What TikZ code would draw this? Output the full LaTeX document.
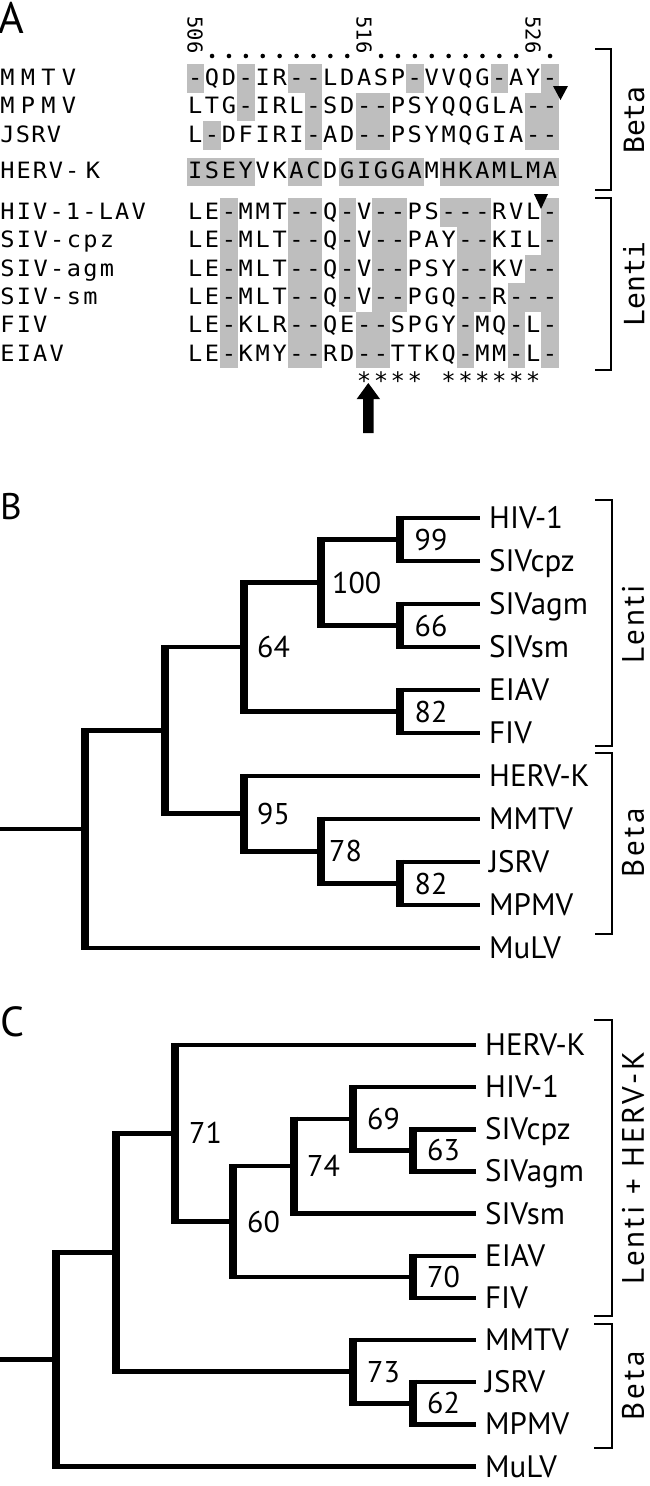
\documentclass[tikz,border=0pt]{standalone}
\usepackage{fontspec}
\usetikzlibrary{calc}
\newfontfamily\monof{DejaVu Sans Mono}
\newfontfamily\ptf{PT Sans}
\newfontfamily\ptls[LetterSpace=10]{PT Sans}
\definecolor{shadecol}{RGB}{190,190,190}
\makeatletter
\newcounter{alncol}
\newcommand\alnrow[3]{%
  \setcounter{alncol}{0}%
  \@tfor\aln@c:=#3\do{%
    \node[seqch] (#1-\arabic{alncol}) at ({195.15+16.9*\arabic{alncol}},#2) {\aln@c};%
    \stepcounter{alncol}}%
}
\newcommand\namerow[4]{%
  \setcounter{alncol}{0}%
  \@tfor\aln@c:=#3\do{%
    \node[seqname] (#1-\arabic{alncol}) at ({7.5+#4*\arabic{alncol}},#2) {\aln@c};%
    \stepcounter{alncol}}%
}
\makeatother
\newcommand\shaderow[3]{\foreach \k in {#3}{\fill[shadecol] ({186.5+16.9*\k},#1) rectangle ({186.9+16.9*(\k+1)},#2);}}
\begin{document}
\begin{tikzpicture}[x=1pt,y=-1pt,
  seqch/.style={font=\monof\fontsize{22.5}{24}\selectfont, anchor=base, inner sep=0pt, xscale=1.05},
  seqname/.style={font=\monof\fontsize{22.5}{24}\selectfont, anchor=base, inner sep=0pt, xscale=1.05},
  posnum/.style={font=\monof\fontsize{20.5}{24}\selectfont, rotate=-90, inner sep=0pt},
  astr/.style={font=\monof\fontsize{24}{26}\selectfont, anchor=base, inner sep=0pt},
  grpA/.style={font=\monof\fontsize{28}{30}\selectfont, rotate=90, inner sep=0pt},
  grpT/.style={font=\ptls\fontsize{31}{34}\selectfont, rotate=90, inner sep=0pt},
  panel/.style={font=\ptf\fontsize{40}{44}\selectfont, anchor=base west, inner sep=0pt},
  hbar/.style={line width=4.5pt},
  vbar/.style={line width=8pt, shorten <=-2.25pt, shorten >=-2.25pt},
  leaf/.style={font=\ptf\fontsize{31}{36}\selectfont, anchor=base west, inner sep=0pt},
  boot/.style={font=\ptf\fontsize{30}{36}\selectfont, anchor=base west, inner sep=0pt},
  brk/.style={line width=2.2pt}]
\useasboundingbox (0,0) rectangle (650,1486);
\fill[white] (0,0) rectangle (650,1486);

% ---------------- Panel A ----------------
\node[panel, font=\ptf\fontsize{44}{48}\selectfont] (labA) at (-2,33) {A};
\node[posnum] (p506) at (195.15,35) {506};
\node[posnum] (p516) at (364.15,35) {516};
\node[posnum] (p526) at (533.15,35) {526};
\foreach \k in {1,...,9,11,12,...,19,21} \fill ({195.15+16.9*\k},56) circle (2.3);

% shading
\shaderow{64.3}{92.9}{0,3,6,7,13,18,21}
\shaderow{92.7}{121.3}{3,7,10,11,20,21}
\shaderow{121.1}{149.5}{1,7,10,11,20,21}
\shaderow{157.7}{185.5}{0,1,2,3,6,7,9,10,11,12,13,15,16,17,18,19,20,21}
\shaderow{198.3}{226.8}{2,6,7,9,11,12,15,16,17,21}
\shaderow{226.6}{255.1}{2,6,7,9,11,12,16,17,21}
\shaderow{254.9}{283.4}{2,6,7,9,11,12,16,17,20,21}
\shaderow{283.2}{311.7}{2,6,7,9,11,12,16,17,19,20,21}
\shaderow{311.5}{340.0}{2,6,7,10,11,16,19,21}
\shaderow{339.8}{368.1}{2,6,7,10,11,16,19,21}

% names
\namerow{nMMTV}{85.5}{MMTV}{20.5}
\namerow{nMPMV}{113.9}{MPMV}{20.5}
\namerow{nJSRV}{142.3}{JSRV}{15.5}
\namerow{nHERV}{178.6}{HERV-}{16.2}
\node[seqname] (nHERVk) at (93,178.6) {K};
\namerow{nHIV}{219.5}{HIV-1-LAV}{16.4}
\namerow{ncpz}{247.8}{SIV-cpz}{16.6}
\namerow{nagm}{276.1}{SIV-agm}{16.6}
\namerow{nsm}{304.4}{SIV-sm}{16.6}
\namerow{nFIV}{332.7}{FIV}{16.4}
\namerow{nEIAV}{361.0}{EIAV}{16.4}

% sequences
\alnrow{sMMTV}{85.5}{-QD-IR--LDASP-VVQG-AY-}
\alnrow{sMPMV}{113.9}{LTG-IRL-SD--PSYQQGLA--}
\alnrow{sJSRV}{142.3}{L-DFIRI-AD--PSYMQGIA--}
\alnrow{sHERV}{178.6}{ISEYVKACDGIGGAMHKAMLMA}
\alnrow{sHIV}{219.5}{LE-MMT--Q-V--PS---RVL-}
\alnrow{scpz}{247.8}{LE-MLT--Q-V--PAY--KIL-}
\alnrow{sagm}{276.1}{LE-MLT--Q-V--PSY--KV--}
\alnrow{ssm}{304.4}{LE-MLT--Q-V--PGQ--R---}
\alnrow{sFIV}{332.7}{LE-KLR--QE--SPGY-MQ-L-}
\alnrow{sEIAV}{361.0}{LE-KMY--RD--TTKQ-MM-L-}

% triangles
\fill (553,86) -- (568,86) -- (560.5,100) -- cycle;
\fill (534,194) -- (548,194) -- (541,209) -- cycle;

% asterisks
\foreach \k in {10,...,13,15,16,...,20} \node[astr] (ast\k) at ({195.15+16.9*\k},389) {*};

% arrow
\fill (368.3,383) -- (380,399) -- (373.5,399) -- (373.5,433) -- (363,433) -- (363,399) -- (356.7,399) -- cycle;

% brackets A
\draw[brk] (595,49) -- (611,49) -- (611,190) -- (595,190);
\draw[brk] (595,198) -- (611,198) -- (611,370) -- (595,370);
\node[grpA] (gBetaA) at (634,120) {Beta};
\node[grpA] (gLentiA) at (634,284) {Lenti};

% ---------------- Panel B ----------------
\node[panel, font=\ptf\fontsize{37}{40}\selectfont] (labB) at (0,519) {B};
\foreach \id/\y/\t in {bHIV/518/HIV-1, bcpz/561/SIVcpz, bagm/604/SIVagm, bsm/647/SIVsm,
  bEIAV/690/EIAV, bFIV/733/FIV, bHERV/776/HERV-K, bMMTV/819/MMTV, bJSRV/862/JSRV,
  bMPMV/905/MPMV, bMuLV/948/MuLV}{
  \coordinate (\id e) at (480,\y);
  \node[leaf] (\id) at (489,\y+10.85) {\t};
}
\coordinate (b99) at (399.5,539.5);
\coordinate (b66) at (399.5,625.5);
\coordinate (b82) at (399.5,711.5);
\coordinate (b100) at (321,582.5);
\coordinate (b64) at (243.5,647);
\coordinate (b82b) at (399.5,883.5);
\coordinate (b78) at (321,851.25);
\coordinate (b95) at (243.5,813.6);
\coordinate (b1) at (165,730.3);
\coordinate (bR) at (85,829);
\coordinate (bS) at (0,829);
\foreach \p/\a/\b in {b99/bHIVe/bcpze, b66/bagme/bsme, b82/bEIAVe/bFIVe, b100/b99/b66, b64/b100/b82,
  b82b/bJSRVe/bMPMVe, b78/bMMTVe/b82b, b95/bHERVe/b78, b1/b64/b95, bR/b1/bMuLVe}{
  \draw[hbar] (\p |- \a) -- (\a);
  \draw[hbar] (\p |- \b) -- (\b);
  \draw[vbar] (\p |- \a) -- (\p |- \b);
}
\draw[hbar] (bS) -- (bR);
\node[boot] (t99) at ($(b99)+(15,10.5)$) {99};
\node[boot] (t66) at ($(b66)+(15,10.5)$) {66};
\node[boot] (t82) at ($(b82)+(15,10.5)$) {82};
\node[boot] (t100) at ($(b100)+(11,10.5)$) {100};
\node[boot] (t64) at ($(b64)+(13.5,10.5)$) {64};
\node[boot] (t95) at ($(b95)+(13.5,10.5)$) {95};
\node[boot] (t78) at ($(b78)+(8,10.5)$) {78};
\node[boot] (t82b) at ($(b82b)+(15,10.5)$) {82};
\draw[brk] (595,500) -- (612,500) -- (612,746) -- (595,746);
\draw[brk] (595,753) -- (612,753) -- (612,934) -- (595,934);
\node[grpT] (gLentiB) at (633,624) {Lenti};
\node[grpT] (gBetaB) at (633,843) {Beta};

% ---------------- Panel C ----------------
\node[panel, font=\ptf\fontsize{42}{46}\selectfont] (labC) at (0,1036) {C};
\foreach \id/\y/\t in {cHERV/1045/HERV-K, cHIV/1087.15/HIV-1, ccpz/1129.3/SIVcpz, cagm/1171.45/SIVagm,
  csm/1213.6/SIVsm, cEIAV/1255.75/EIAV, cFIV/1297.9/FIV, cMMTV/1340.05/MMTV, cJSRV/1382.2/JSRV,
  cMPMV/1424.35/MPMV, cMuLV/1466.5/MuLV}{
  \coordinate (\id e) at (476,\y);
  \node[leaf] (\id) at (485,\y+10.5) {\t};
}
\coordinate (c63) at (413,1150.375);
\coordinate (c69) at (353,1118.76);
\coordinate (c74) at (294,1166.18);
\coordinate (c70) at (413,1276.825);
\coordinate (c60) at (233,1221.5);
\coordinate (c71) at (175,1133.25);
\coordinate (c62) at (413,1403.275);
\coordinate (c73) at (353,1371.66);
\coordinate (cA) at (116,1252.46);
\coordinate (cR) at (56,1359.48);
\coordinate (cS) at (0,1359.48);
\foreach \p/\a/\b in {c63/ccpze/cagme, c69/cHIVe/c63, c74/c69/csme, c70/cEIAVe/cFIVe, c60/c74/c70,
  c71/cHERVe/c60, c62/cJSRVe/cMPMVe, c73/cMMTVe/c62, cA/c71/c73, cR/cA/cMuLVe}{
  \draw[hbar] (\p |- \a) -- (\a);
  \draw[hbar] (\p |- \b) -- (\b);
  \draw[vbar] (\p |- \a) -- (\p |- \b);
}
\draw[hbar] (cS) -- (cR);
\node[boot] (t63) at ($(c63)+(14,10.5)$) {63};
\node[boot] (t69) at ($(c69)+(14,10.5)$) {69};
\node[boot] (t74) at ($(c74)+(13,10.5)$) {74};
\node[boot] (t70) at ($(c70)+(14,10.5)$) {70};
\node[boot] (t60) at ($(c60)+(14,10.5)$) {60};
\node[boot] (t71) at ($(c71)+(14,10.5)$) {71};
\node[boot] (t62) at ($(c62)+(14,10.5)$) {62};
\node[boot] (t73) at ($(c73)+(14,10.5)$) {73};
\draw[brk] (594,1020) -- (612,1020) -- (612,1316) -- (594,1316);
\draw[brk] (594,1324) -- (612,1324) -- (612,1448) -- (594,1448);
\node[grpT] (gLentiC) at (633,1168) {Lenti + HERV-K};
\node[grpT] (gBetaC) at (633,1386) {Beta};
\end{tikzpicture}
\end{document}
